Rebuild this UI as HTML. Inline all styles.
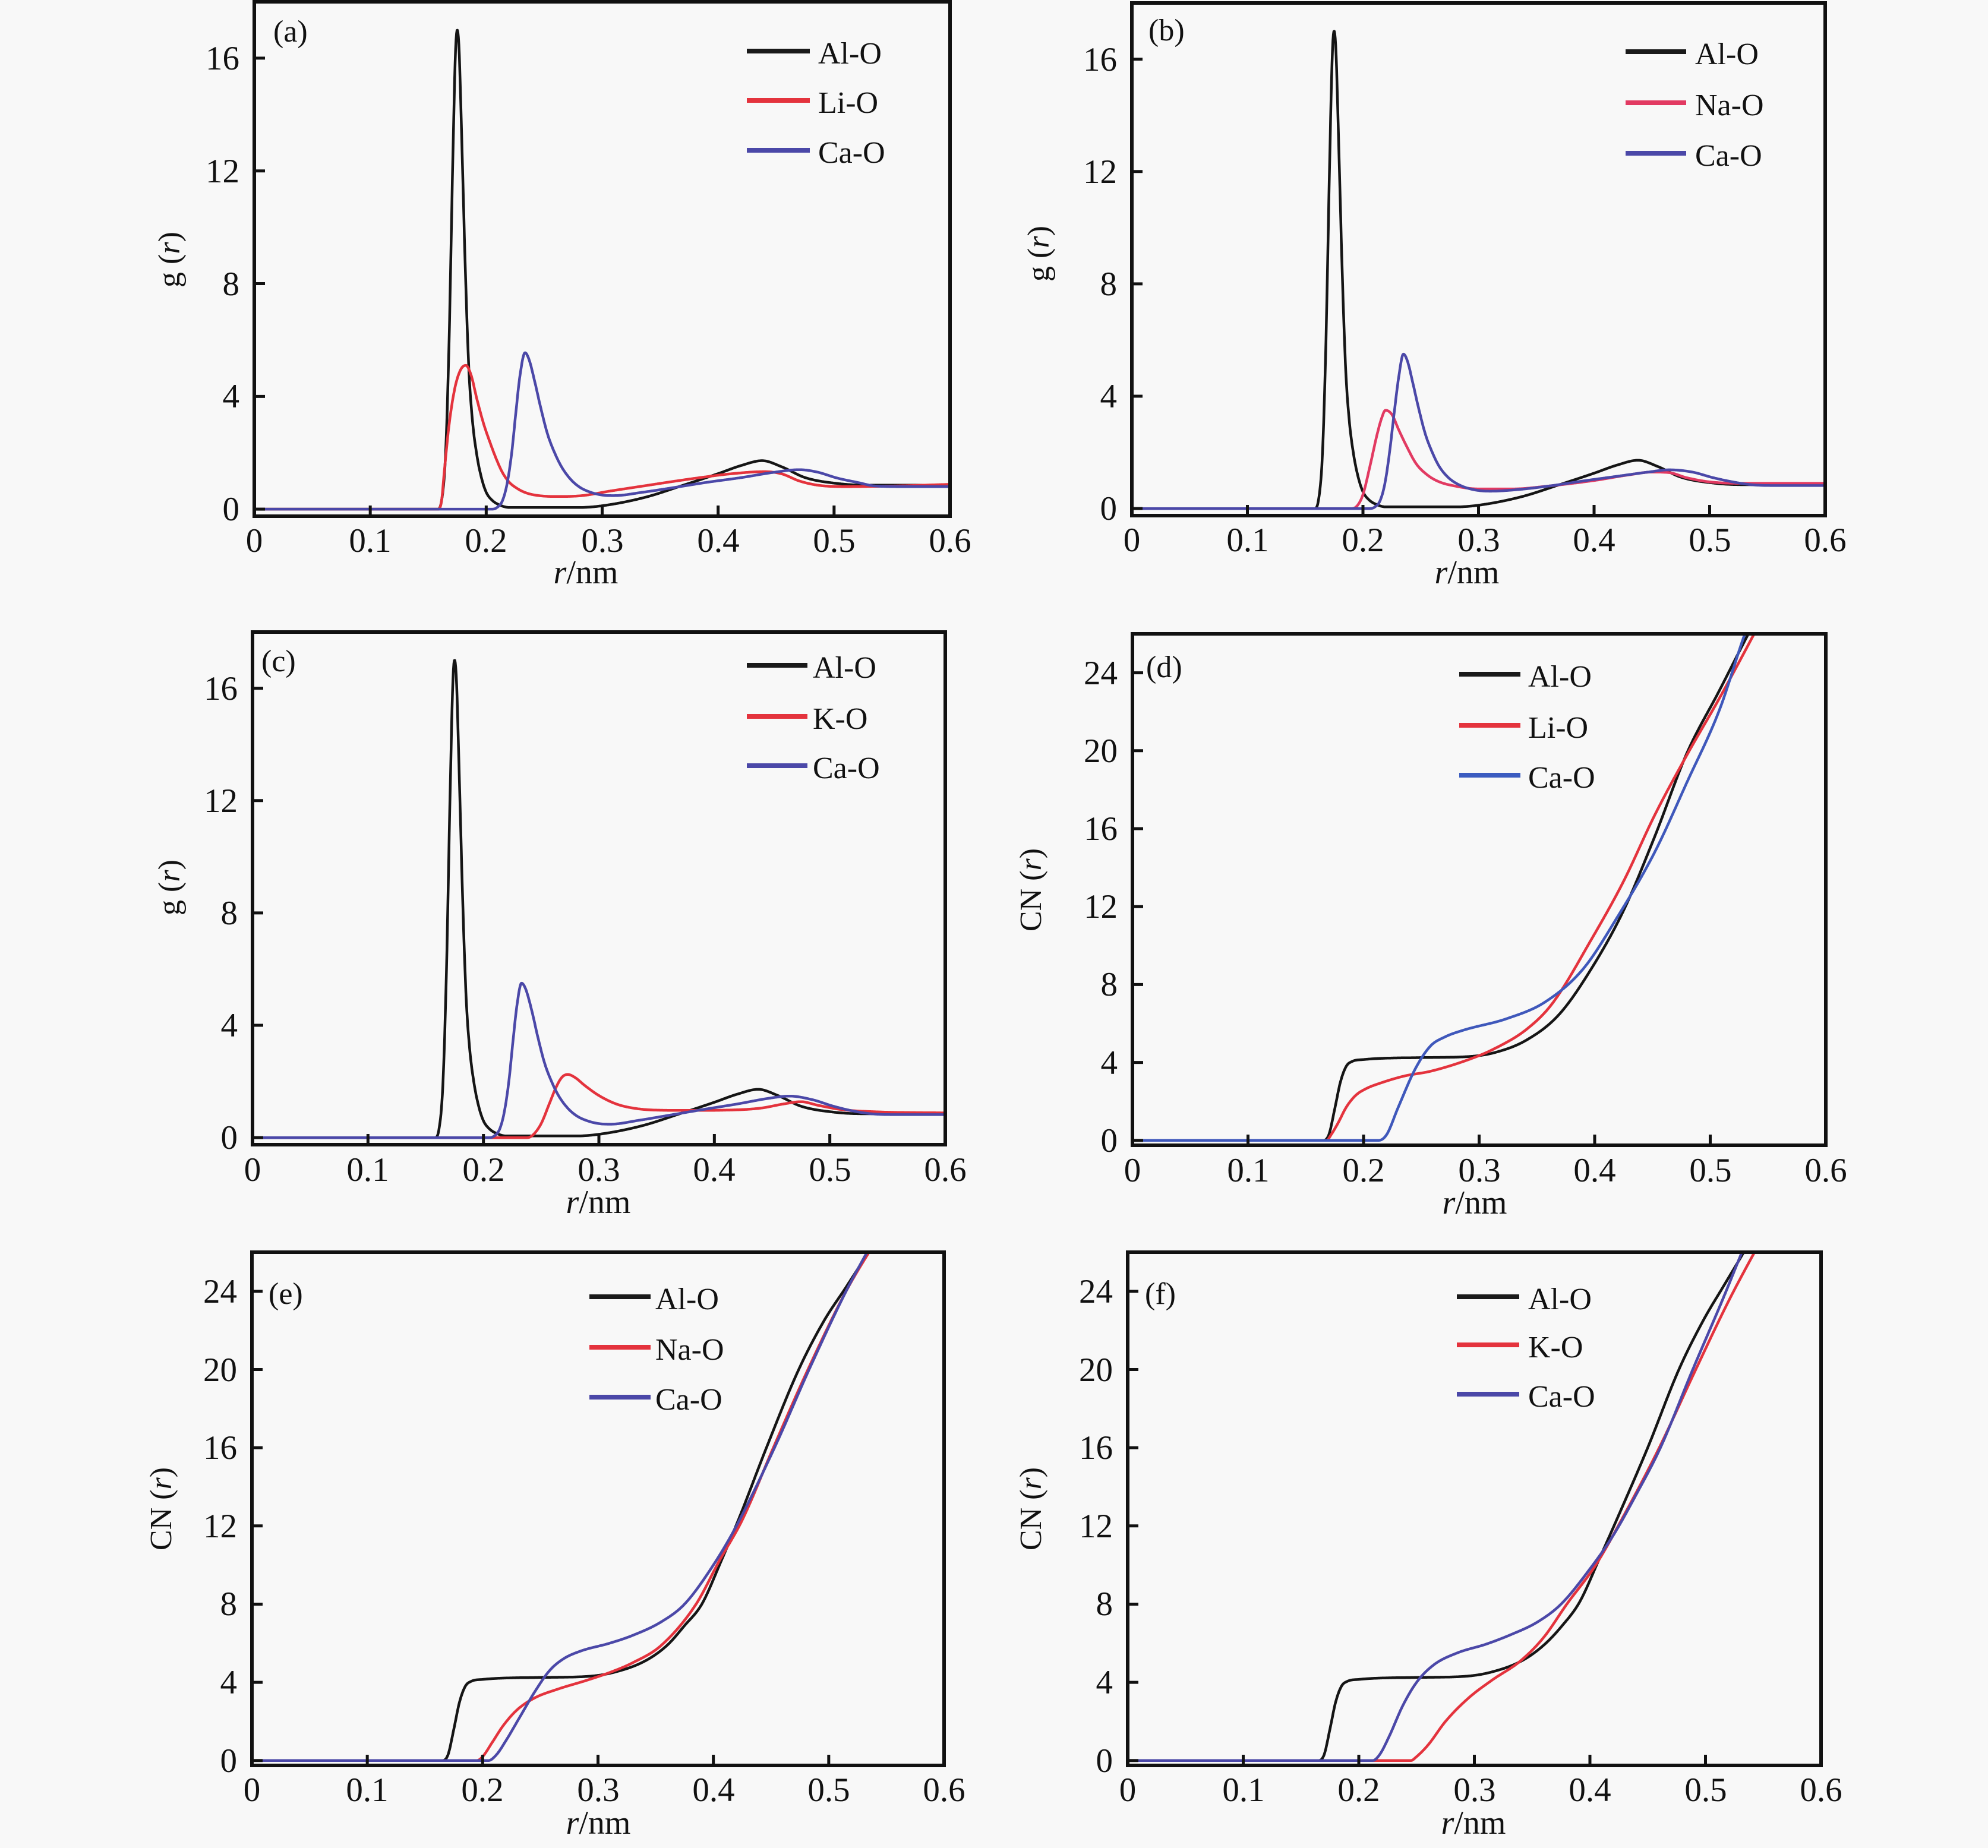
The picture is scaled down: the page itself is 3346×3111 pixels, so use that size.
<!DOCTYPE html>
<html><head><meta charset="utf-8">
<style>html,body{margin:0;padding:0;background:#f8f8f8;}svg{display:block}</style>
</head><body>
<svg id="s" width="3346" height="3111" viewBox="0 0 3346 3111" xmlns="http://www.w3.org/2000/svg" font-family="'Liberation Serif', 'Times New Roman', serif" fill="#111">
<rect width="3346" height="3111" fill="#f8f8f8"/>
<defs>
<clipPath id="ca"><rect x="428" y="3" width="1171" height="866"/></clipPath>
<clipPath id="cb"><rect x="1905" y="5" width="1167" height="863"/></clipPath>
<clipPath id="cc"><rect x="425" y="1064" width="1166" height="863"/></clipPath>
<clipPath id="cd"><rect x="1906" y="1067" width="1167" height="861"/></clipPath>
<clipPath id="ce"><rect x="424" y="2108" width="1165" height="864"/></clipPath>
<clipPath id="cf"><rect x="1898" y="2108" width="1167" height="864"/></clipPath>
</defs>
<g id="curves"></g>
<g id="ticks" stroke="#111" stroke-width="5"></g>
<g fill="none" stroke="#111" stroke-width="6">
<rect x="428" y="3" width="1171" height="866"/>
<rect x="1905" y="5" width="1167" height="863"/>
<rect x="425" y="1064" width="1166" height="863"/>
<rect x="1906" y="1067" width="1167" height="861"/>
<rect x="424" y="2108" width="1165" height="864"/>
<rect x="1898" y="2108" width="1167" height="864"/>
</g>

<!-- X tick labels -->
<g font-size="57" text-anchor="middle">
<text x="428" y="929">0</text><text x="623" y="929">0.1</text><text x="818" y="929">0.2</text><text x="1014" y="929">0.3</text><text x="1209" y="929">0.4</text><text x="1404" y="929">0.5</text><text x="1599" y="929">0.6</text>
<text x="1905" y="928">0</text><text x="2100" y="928">0.1</text><text x="2294" y="928">0.2</text><text x="2489" y="928">0.3</text><text x="2683" y="928">0.4</text><text x="2878" y="928">0.5</text><text x="3072" y="928">0.6</text>
<text x="425" y="1988">0</text><text x="619" y="1988">0.1</text><text x="814" y="1988">0.2</text><text x="1008" y="1988">0.3</text><text x="1202" y="1988">0.4</text><text x="1397" y="1988">0.5</text><text x="1591" y="1988">0.6</text>
<text x="1906" y="1989">0</text><text x="2101" y="1989">0.1</text><text x="2295" y="1989">0.2</text><text x="2490" y="1989">0.3</text><text x="2684" y="1989">0.4</text><text x="2879" y="1989">0.5</text><text x="3073" y="1989">0.6</text>
<text x="424" y="3032">0</text><text x="618" y="3032">0.1</text><text x="812" y="3032">0.2</text><text x="1007" y="3032">0.3</text><text x="1201" y="3032">0.4</text><text x="1395" y="3032">0.5</text><text x="1589" y="3032">0.6</text>
<text x="1898" y="3032">0</text><text x="2093" y="3032">0.1</text><text x="2287" y="3032">0.2</text><text x="2482" y="3032">0.3</text><text x="2676" y="3032">0.4</text><text x="2871" y="3032">0.5</text><text x="3065" y="3032">0.6</text>
</g>

<!-- Y tick labels -->
<g font-size="57" text-anchor="end">
<text x="403" y="876">0</text><text x="403" y="686">4</text><text x="403" y="497">8</text><text x="403" y="307">12</text><text x="403" y="117">16</text>
<text x="1880" y="875">0</text><text x="1880" y="686">4</text><text x="1880" y="497">8</text><text x="1880" y="308">12</text><text x="1880" y="119">16</text>
<text x="400" y="1934">0</text><text x="400" y="1745">4</text><text x="400" y="1556">8</text><text x="400" y="1367">12</text><text x="400" y="1178">16</text>
<text x="1881" y="1939">0</text><text x="1881" y="1808">4</text><text x="1881" y="1676">8</text><text x="1881" y="1545">12</text><text x="1881" y="1414">16</text><text x="1881" y="1283">20</text><text x="1881" y="1152">24</text>
<text x="399" y="2983">0</text><text x="399" y="2851">4</text><text x="399" y="2719">8</text><text x="399" y="2588">12</text><text x="399" y="2456">16</text><text x="399" y="2325">20</text><text x="399" y="2193">24</text>
<text x="1873" y="2983">0</text><text x="1873" y="2851">4</text><text x="1873" y="2719">8</text><text x="1873" y="2588">12</text><text x="1873" y="2456">16</text><text x="1873" y="2325">20</text><text x="1873" y="2193">24</text>
</g>

<!-- X axis titles -->
<g font-size="56" text-anchor="middle">
<text x="986" y="982"><tspan font-style="italic">r</tspan>/nm</text>
<text x="2469" y="982"><tspan font-style="italic">r</tspan>/nm</text>
<text x="1007" y="2042"><tspan font-style="italic">r</tspan>/nm</text>
<text x="2482" y="2043"><tspan font-style="italic">r</tspan>/nm</text>
<text x="1007" y="3087"><tspan font-style="italic">r</tspan>/nm</text>
<text x="2480" y="3087"><tspan font-style="italic">r</tspan>/nm</text>
</g>

<!-- Y axis titles -->
<g font-size="52" text-anchor="middle">
<text transform="translate(302,437) rotate(-90)">g (<tspan font-style="italic">r</tspan>)</text>
<text transform="translate(1765,427) rotate(-90)">g (<tspan font-style="italic">r</tspan>)</text>
<text transform="translate(302,1494) rotate(-90)">g (<tspan font-style="italic">r</tspan>)</text>
<text transform="translate(1752,1498) rotate(-90)">CN (<tspan font-style="italic">r</tspan>)</text>
<text transform="translate(288,2540) rotate(-90)">CN (<tspan font-style="italic">r</tspan>)</text>
<text transform="translate(1752,2540) rotate(-90)">CN (<tspan font-style="italic">r</tspan>)</text>
</g>

<!-- Panel labels -->
<g font-size="52">
<text x="460" y="70">(a)</text>
<text x="1933" y="68">(b)</text>
<text x="440" y="1130">(c)</text>
<text x="1929" y="1140">(d)</text>
<text x="452" y="2195">(e)</text>
<text x="1927" y="2195">(f)</text>
</g>

<!-- Legends -->
<g stroke-width="8" stroke-linecap="butt">
<line x1="1257" y1="86" x2="1363" y2="86" stroke="#1a1a1a"/>
<line x1="1257" y1="169" x2="1363" y2="169" stroke="#e4333d"/>
<line x1="1257" y1="253" x2="1363" y2="253" stroke="#4b48a8"/>
<line x1="2736" y1="87" x2="2838" y2="87" stroke="#1a1a1a"/>
<line x1="2736" y1="173" x2="2838" y2="173" stroke="#e23a62"/>
<line x1="2736" y1="258" x2="2838" y2="258" stroke="#4b48a8"/>
<line x1="1257" y1="1120" x2="1359" y2="1120" stroke="#1a1a1a"/>
<line x1="1257" y1="1206" x2="1359" y2="1206" stroke="#e4333d"/>
<line x1="1257" y1="1289" x2="1359" y2="1289" stroke="#4b48a8"/>
<line x1="2456" y1="1135" x2="2559" y2="1135" stroke="#1a1a1a"/>
<line x1="2456" y1="1221" x2="2559" y2="1221" stroke="#e4333d"/>
<line x1="2456" y1="1305" x2="2559" y2="1305" stroke="#3b5cc0"/>
<line x1="992" y1="2183" x2="1095" y2="2183" stroke="#1a1a1a"/>
<line x1="992" y1="2268" x2="1095" y2="2268" stroke="#e4333d"/>
<line x1="992" y1="2352" x2="1095" y2="2352" stroke="#4b48a8"/>
<line x1="2452" y1="2183" x2="2557" y2="2183" stroke="#1a1a1a"/>
<line x1="2452" y1="2264" x2="2557" y2="2264" stroke="#e4333d"/>
<line x1="2452" y1="2347" x2="2557" y2="2347" stroke="#4b48a8"/>
</g>
<g font-size="52">
<text x="1377" y="107">Al-O</text><text x="1377" y="190">Li-O</text><text x="1377" y="274">Ca-O</text>
<text x="2853" y="108">Al-O</text><text x="2853" y="194">Na-O</text><text x="2853" y="279">Ca-O</text>
<text x="1368" y="1141">Al-O</text><text x="1368" y="1227">K-O</text><text x="1368" y="1310">Ca-O</text>
<text x="2572" y="1156">Al-O</text><text x="2572" y="1242">Li-O</text><text x="2572" y="1326">Ca-O</text>
<text x="1103" y="2204">Al-O</text><text x="1103" y="2289">Na-O</text><text x="1103" y="2373">Ca-O</text>
<text x="2572" y="2204">Al-O</text><text x="2572" y="2285">K-O</text><text x="2572" y="2368">Ca-O</text>
</g>
</svg>
<script>
(function(){
var NS="http://www.w3.org/2000/svg";
var P={
a:{L:428,R:1599,T:3,B:869,ym:18,c:"ca"},
b:{L:1905,R:3072,T:5,B:868,ym:18,c:"cb"},
c:{L:425,R:1591,T:1064,B:1927,ym:18,c:"cc"},
d:{L:1906,R:3073,T:1067,B:1928,ym:26,c:"cd"},
e:{L:424,R:1589,T:2108,B:2972,ym:26,c:"ce"},
f:{L:1898,R:3065,T:2108,B:2972,ym:26,c:"cf"}
};
function X(p,r){return p.L+(r/0.6)*(p.R-p.L);}
function Y(p,v){return p.B-(v+0.25)*(p.B-p.T)/(p.ym+0.25);}
function mono(pts){
 var n=pts.length,x=[],y=[],d=[],m=[],i;
 for(i=0;i<n;i++){x.push(pts[i][0]);y.push(pts[i][1]);}
 for(i=0;i<n-1;i++)d.push((y[i+1]-y[i])/(x[i+1]-x[i]));
 m[0]=d[0];m[n-1]=d[n-2];
 for(i=1;i<n-1;i++){m[i]=(d[i-1]*d[i]<=0)?0:(d[i-1]+d[i])/2;}
 for(i=0;i<n-1;i++){
  if(d[i]===0){m[i]=0;m[i+1]=0;continue;}
  var a=m[i]/d[i],b=m[i+1]/d[i],s=a*a+b*b;
  if(s>9){var t=3/Math.sqrt(s);m[i]=t*a*d[i];m[i+1]=t*b*d[i];}
 }
 return function(r){
  if(r<=x[0])return y[0];
  if(r>=x[n-1])return y[n-1]+m[n-1]*(r-x[n-1]);
  var k=0;while(k<n-2&&r>x[k+1])k++;
  var h=x[k+1]-x[k],t=(r-x[k])/h,t2=t*t,t3=t2*t;
  return (2*t3-3*t2+1)*y[k]+(t3-2*t2+t)*h*m[k]+(-2*t3+3*t2)*y[k+1]+(t3-t2)*h*m[k+1];
 };
}
var K="#151515",RD="#e4333d",PK="#e23a62",BL="#4b48a8",BL2="#3f58bb";
var AlG=[[0,0],[0.158,0],[0.1615,0.3],[0.165,2],[0.168,6],[0.171,12],[0.1735,16.2],[0.175,17],[0.1765,16.4],[0.179,13],[0.182,8.5],[0.185,5],[0.188,3.2],[0.192,1.9],[0.196,1.1],[0.2,0.6],[0.205,0.32],[0.212,0.14],[0.22,0.06],[0.28,0.06],[0.3,0.12],[0.337,0.42],[0.37,0.85],[0.4,1.26],[0.42,1.55],[0.438,1.72],[0.455,1.5],[0.475,1.12],[0.503,0.91],[0.53,0.85],[0.6,0.85]];
var LiG=[[0,0],[0.159,0],[0.1615,0.3],[0.164,1.4],[0.168,3.0],[0.173,4.3],[0.178,4.95],[0.1825,5.1],[0.187,4.75],[0.192,3.9],[0.198,3.0],[0.203,2.4],[0.209,1.75],[0.214,1.3],[0.22,0.95],[0.225,0.78],[0.233,0.6],[0.242,0.5],[0.26,0.45],[0.28,0.47],[0.308,0.65],[0.34,0.85],[0.364,1.0],[0.39,1.15],[0.41,1.25],[0.44,1.33],[0.455,1.25],[0.47,1.0],[0.486,0.85],[0.51,0.8],[0.55,0.82],[0.6,0.88]];
var CaG=[[0,0],[0.205,0],[0.209,0.05],[0.214,0.3],[0.218,0.9],[0.222,2.0],[0.2255,3.4],[0.229,4.7],[0.2335,5.55],[0.237,5.3],[0.242,4.5],[0.247,3.6],[0.253,2.65],[0.259,2.0],[0.265,1.5],[0.273,1.05],[0.281,0.77],[0.29,0.6],[0.3,0.5],[0.31,0.48],[0.335,0.6],[0.364,0.78],[0.39,0.95],[0.42,1.12],[0.447,1.3],[0.47,1.4],[0.485,1.32],[0.503,1.1],[0.52,0.95],[0.536,0.82],[0.56,0.8],[0.6,0.8]];
var CaGb=[[0,0],[0.205,0],[0.21,0.05],[0.215,0.3],[0.219,0.9],[0.223,2.0],[0.227,3.4],[0.231,4.7],[0.235,5.5],[0.2385,5.25],[0.243,4.5],[0.248,3.6],[0.254,2.65],[0.26,2.0],[0.266,1.5],[0.274,1.1],[0.283,0.85],[0.295,0.68],[0.31,0.62],[0.335,0.68],[0.364,0.82],[0.39,0.98],[0.42,1.15],[0.447,1.3],[0.465,1.38],[0.485,1.3],[0.503,1.1],[0.52,0.95],[0.536,0.85],[0.56,0.82],[0.6,0.82]];
var NaG=[[0,0],[0.19,0],[0.195,0.1],[0.2,0.5],[0.206,1.5],[0.212,2.6],[0.216,3.2],[0.2195,3.5],[0.225,3.35],[0.231,2.8],[0.238,2.2],[0.246,1.6],[0.255,1.22],[0.265,0.97],[0.28,0.8],[0.3,0.7],[0.33,0.7],[0.36,0.8],[0.4,1.0],[0.43,1.2],[0.45,1.3],[0.465,1.28],[0.48,1.1],[0.5,0.95],[0.53,0.9],[0.6,0.9]];
var KG=[[0,0],[0.238,0],[0.243,0.1],[0.25,0.5],[0.257,1.2],[0.263,1.8],[0.268,2.15],[0.273,2.25],[0.279,2.15],[0.288,1.85],[0.3,1.5],[0.315,1.2],[0.33,1.05],[0.35,0.98],[0.38,0.97],[0.41,0.98],[0.44,1.05],[0.46,1.2],[0.475,1.28],[0.49,1.15],[0.51,1.0],[0.54,0.92],[0.6,0.88]];
var CaGc=[[0,0],[0.205,0],[0.209,0.05],[0.214,0.3],[0.218,0.9],[0.222,2.0],[0.2255,3.4],[0.229,4.7],[0.233,5.5],[0.2365,5.3],[0.242,4.5],[0.247,3.6],[0.253,2.65],[0.259,2.0],[0.265,1.5],[0.273,1.05],[0.281,0.77],[0.29,0.6],[0.3,0.5],[0.31,0.48],[0.335,0.62],[0.364,0.82],[0.39,1.0],[0.42,1.2],[0.447,1.4],[0.465,1.48],[0.485,1.35],[0.503,1.12],[0.52,0.95],[0.536,0.85],[0.56,0.82],[0.6,0.82]];
var AlCN=[[0,0],[0.165,0],[0.17,0.3],[0.175,1.6],[0.18,3.0],[0.185,3.8],[0.19,4.05],[0.2,4.15],[0.25,4.25],[0.29,4.3],[0.313,4.5],[0.341,5.15],[0.369,6.45],[0.397,8.8],[0.425,11.8],[0.452,15.6],[0.48,19.9],[0.508,23.1],[0.533,26],[0.56,29]];
var AlCNe=[[0,0],[0.165,0],[0.17,0.3],[0.175,1.6],[0.18,3.0],[0.185,3.8],[0.19,4.05],[0.2,4.15],[0.25,4.25],[0.29,4.3],[0.313,4.5],[0.341,5.1],[0.36,5.9],[0.375,6.9],[0.39,8.0],[0.406,10.1],[0.423,12.5],[0.446,16],[0.474,20],[0.496,22.5],[0.516,24.3],[0.536,26.2],[0.56,29]];
var AlCNf=[[0,0],[0.165,0],[0.17,0.3],[0.175,1.6],[0.18,3.0],[0.185,3.8],[0.19,4.05],[0.2,4.15],[0.25,4.25],[0.29,4.3],[0.313,4.5],[0.341,5.1],[0.36,5.9],[0.376,6.9],[0.391,8.1],[0.408,10.3],[0.426,12.7],[0.45,16],[0.477,20],[0.498,22.5],[0.517,24.4],[0.535,26.2],[0.56,29]];
var LiCN=[[0,0],[0.168,0],[0.172,0.3],[0.178,0.9],[0.185,1.7],[0.193,2.3],[0.202,2.65],[0.215,2.95],[0.235,3.3],[0.258,3.55],[0.291,4.15],[0.313,4.7],[0.341,5.7],[0.363,7.0],[0.397,10.3],[0.425,13.3],[0.452,16.7],[0.48,19.8],[0.508,22.7],[0.538,26],[0.56,28.5]];
var CaCNd=[[0,0],[0.213,0],[0.22,0.3],[0.23,1.7],[0.245,3.7],[0.258,4.85],[0.27,5.3],[0.286,5.65],[0.324,6.25],[0.357,7.1],[0.39,8.8],[0.419,11.4],[0.452,14.8],[0.48,18.4],[0.508,22.1],[0.53,26],[0.55,29]];
var NaCN=[[0,0],[0.195,0],[0.2,0.2],[0.208,0.9],[0.218,1.8],[0.23,2.6],[0.245,3.2],[0.265,3.65],[0.29,4.1],[0.31,4.5],[0.33,5.0],[0.355,5.9],[0.385,8],[0.405,10.2],[0.425,12.3],[0.452,16],[0.482,20],[0.515,24],[0.54,26.5],[0.56,28.5]];
var CaCNe=[[0,0],[0.205,0],[0.212,0.3],[0.22,1.0],[0.232,2.2],[0.245,3.5],[0.258,4.6],[0.27,5.2],[0.285,5.6],[0.31,6.0],[0.33,6.4],[0.355,7.1],[0.375,8.0],[0.4,10],[0.42,12],[0.453,16],[0.483,20],[0.515,24],[0.535,26.2],[0.56,29]];
var KCN=[[0,0],[0.245,0],[0.25,0.2],[0.26,0.8],[0.275,2.0],[0.295,3.2],[0.315,4.1],[0.34,5.1],[0.36,6.3],[0.38,8],[0.405,10],[0.43,12.6],[0.46,16],[0.49,19.8],[0.52,23.5],[0.547,26.5],[0.57,29]];
var CaCNf=[[0,0],[0.212,0],[0.218,0.3],[0.226,1.2],[0.238,2.8],[0.25,4.0],[0.265,4.9],[0.285,5.5],[0.31,5.95],[0.33,6.4],[0.355,7.1],[0.375,8],[0.4,9.8],[0.42,11.5],[0.44,13.6],[0.461,16],[0.489,20],[0.515,23.6],[0.535,26.5],[0.56,30]];
var S={
a:[[AlG,K],[LiG,RD],[CaG,BL]],
b:[[AlG,K],[NaG,PK],[CaGb,BL]],
c:[[AlG,K],[KG,RD],[CaGc,BL]],
d:[[AlCN,K],[LiCN,RD],[CaCNd,BL2]],
e:[[AlCNe,K],[NaCN,RD],[CaCNe,BL]],
f:[[AlCNf,K],[KCN,RD],[CaCNf,BL]]
};
var cg=document.getElementById("curves"),tg=document.getElementById("ticks");
for(var key in P){
 var p=P[key];
 var g=document.createElementNS(NS,"g");
 g.setAttribute("clip-path","url(#"+p.c+")");
 cg.appendChild(g);
 var list=S[key];
 for(var j=0;j<list.length;j++){
  var f=mono(list[j][0]);
  var dd="";
  for(var r=0;r<=0.6000001;r+=0.0004){
   var v=f(r);
   if(v>p.ym+2)v=p.ym+2;
   dd+=(dd?"L":"M")+X(p,r).toFixed(1)+" "+Y(p,v).toFixed(1);
  }
  var path=document.createElementNS(NS,"path");
  path.setAttribute("d",dd);
  path.setAttribute("fill","none");
  path.setAttribute("stroke",list[j][1]);
  path.setAttribute("stroke-width","4.5");
  path.setAttribute("stroke-linejoin","round");
  g.appendChild(path);
 }
 for(var k=1;k<6;k++){
  var xx=X(p,k*0.1);
  var ln=document.createElementNS(NS,"line");
  ln.setAttribute("x1",xx);ln.setAttribute("x2",xx);
  ln.setAttribute("y1",p.B);ln.setAttribute("y2",p.B-18);
  tg.appendChild(ln);
 }
 for(var vv=0;vv<=p.ym-1;vv+=4){
  var yy=Y(p,vv);
  var l2=document.createElementNS(NS,"line");
  l2.setAttribute("x1",p.L);l2.setAttribute("x2",p.L+18);
  l2.setAttribute("y1",yy);l2.setAttribute("y2",yy);
  tg.appendChild(l2);
 }
}
})();
</script>
</body></html>
